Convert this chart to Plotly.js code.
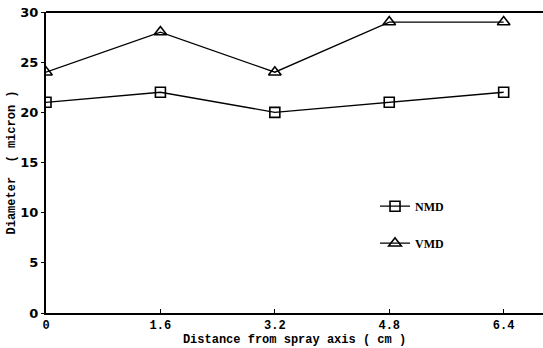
<!DOCTYPE html>
<html><head><meta charset="utf-8">
<script src="https://cdn.plot.ly/plotly-3.0.1.min.js"></script>
<style>html,body{margin:0;padding:0;background:#fff}</style>
</head><body>
<div id="chart" style="width:543px;height:348px"></div>
<script>
const distance = [0, 1.6, 3.2, 4.8, 6.4];
const nmd = [21, 22, 20, 21, 22];
const vmd = [24, 28, 24, 29, 29];
const xTicks = [0, 1.6, 3.2, 4.8, 6.4];
const xTickText = ['0', '1.6', '3.2', '4.8', '6.4'];
const yTicks = [0, 5, 10, 15, 20, 25, 30];

const fontMono = 'Liberation Mono, DejaVu Sans Mono, monospace';
const traces = [
  {x: distance, y: nmd, name: 'NMD', mode: 'lines+markers', legendgroup: 'a',
   line: {color: '#000', width: 1.3},
   marker: {symbol: 'square-open', size: 10, color: '#000', line: {width: 1.6}}},
  {x: distance, y: vmd, name: 'VMD', mode: 'lines+markers', legendgroup: 'b',
   line: {color: '#000', width: 1.3},
   marker: {symbol: 'triangle-up-open', size: 11, color: '#000', line: {width: 1.6}}}
];
const layout = {
  width: 543, height: 348,
  margin: {l: 46, r: 0, t: 12, b: 35},
  paper_bgcolor: '#fff', plot_bgcolor: '#fff',
  font: {family: fontMono, color: '#000', size: 13},
  showlegend: true,
  legend: {x: 0.662, y: 0.403, xanchor: 'left', yanchor: 'top', bgcolor: 'rgba(0,0,0,0)',
           tracegroupgap: 18, traceorder: 'grouped',
           font: {family: 'Liberation Serif, serif', size: 12, color: '#000', weight: 'bold'}},
  xaxis: {range: [0, 6.95], tickvals: xTicks, ticktext: xTickText, showgrid: false, zeroline: false,
          showline: true, linecolor: '#000', linewidth: 2, ticks: 'inside', ticklen: 4, tickcolor: '#000',
          tickfont: {family: fontMono, size: 12, weight: 'bold'},
          title: {text: 'Distance from spray axis ( cm )', standoff: 0,
                  font: {family: fontMono, size: 12, weight: 'bold'}}},
  yaxis: {range: [0, 30], tickvals: yTicks, showgrid: false, zeroline: false,
          showline: true, linecolor: '#000', linewidth: 2, ticks: 'outside', ticklen: 3, tickcolor: '#000',
          tickfont: {family: 'DejaVu Sans, sans-serif', size: 13, weight: 'bold'},
          title: {text: 'Diameter  ( micron )', standoff: 2,
                  font: {family: fontMono, size: 12, weight: 'bold'}}},
  shapes: [{type: 'line', xref: 'paper', yref: 'paper', x0: 0, x1: 1, y0: 1, y1: 1,
            line: {color: '#000', width: 2}}]
};
Plotly.newPlot('chart', traces, layout, {displayModeBar: false, staticPlot: true});
</script>
</body></html>
